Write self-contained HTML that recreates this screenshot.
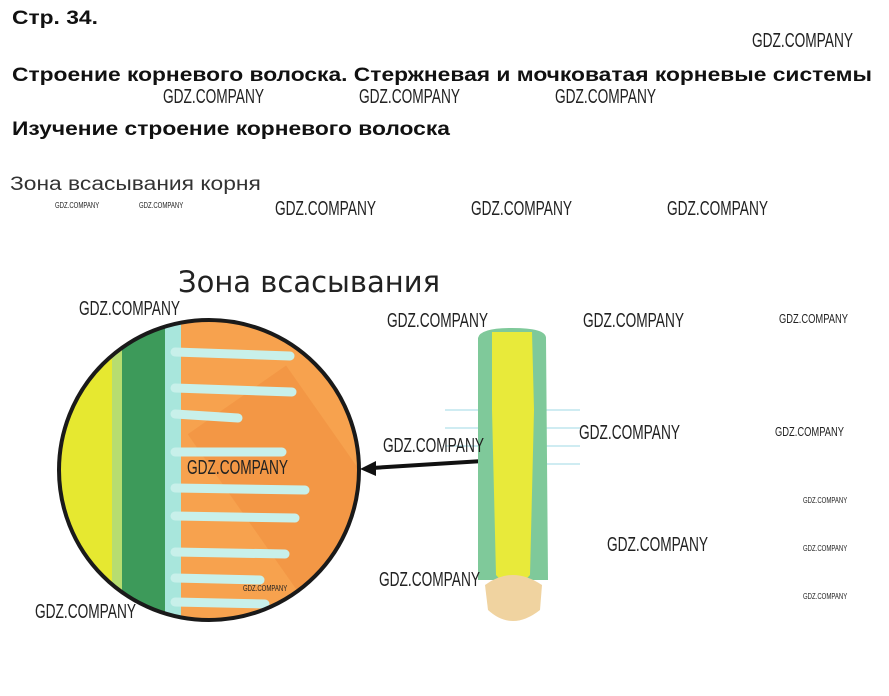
<!DOCTYPE html>
<html><head><meta charset="utf-8"><style>
body{margin:0;background:#fff;width:889px;height:696px;overflow:hidden;position:relative;font-family:"Liberation Sans",sans-serif}
.t{position:absolute;white-space:nowrap;color:#111;transform-origin:left top}
.b{font-weight:bold;font-size:19px;transform:scaleX(1.2)}
.w{position:absolute;white-space:nowrap;font-family:"Liberation Sans Narrow","Liberation Sans",sans-serif;font-size:20px;color:#222;transform:scaleX(.685);transform-origin:left top;font-weight:300}
.s{font-size:8px;transform:scaleX(.75)}
.m{font-size:13px;transform:scaleX(.72)}
</style></head><body>
<div class="t b" style="left:12px;top:8px">Стр. 34.</div>
<div class="t b" style="left:12px;top:65px">Строение корневого волоска. Стержневая и мочковатая корневые системы</div>
<div class="t b" style="left:12px;top:119px">Изучение строение корневого волоска</div>
<div class="t" style="left:10px;top:174px;font-size:19px;color:#333;transform:scaleX(1.2)">Зона всасывания корня</div>
<div class="t" style="left:178px;top:265px;font-size:29px;color:#222;font-family:'DejaVu Sans',sans-serif">Зона всасывания</div>

<svg style="position:absolute;left:0;top:0" width="889" height="696">
<defs><clipPath id="c"><circle cx="209" cy="470" r="150"/></clipPath></defs>
<g clip-path="url(#c)">
<rect x="50" y="310" width="330" height="330" fill="#f7a24e"/>
<rect x="240" y="380" width="120" height="220" fill="#f09040" opacity=".6" transform="rotate(-35 300 490)"/>
<rect x="50" y="310" width="70" height="330" fill="#e6e830"/>
<rect x="112" y="310" width="12" height="330" fill="#b7dd70"/>
<rect x="122" y="310" width="50" height="330" fill="#3d9a5a"/>
<rect x="165" y="310" width="16" height="330" fill="#a8e6dc"/>
<g stroke="#c8f0ea" stroke-width="9" stroke-linecap="round">
<line x1="175" y1="352" x2="290" y2="356"/>
<line x1="175" y1="388" x2="292" y2="392"/>
<line x1="175" y1="414" x2="238" y2="418"/>
<line x1="175" y1="452" x2="282" y2="452"/>
<line x1="175" y1="488" x2="305" y2="490"/>
<line x1="175" y1="516" x2="295" y2="518"/>
<line x1="175" y1="552" x2="285" y2="554"/>
<line x1="175" y1="578" x2="260" y2="580"/>
<line x1="175" y1="602" x2="265" y2="604"/>
</g>
</g>
<circle cx="209" cy="470" r="150" fill="none" stroke="#1a1a1a" stroke-width="4"/>
<line x1="483" y1="461" x2="372" y2="468" stroke="#111" stroke-width="4"/>
<polygon points="360,469 376,461 376,476" fill="#111"/>
<g stroke="#bfe6ee" stroke-width="1.5"><line x1="445" y1="410" x2="480" y2="410"/><line x1="445" y1="428" x2="480" y2="428"/><line x1="445" y1="446" x2="480" y2="446"/><line x1="545" y1="410" x2="580" y2="410"/><line x1="545" y1="428" x2="580" y2="428"/><line x1="545" y1="446" x2="580" y2="446"/><line x1="545" y1="464" x2="580" y2="464"/></g>
<path d="M478,338 Q480,328 512,328 Q546,328 546,338 L548,580 L478,580 Z" fill="#7fc99a"/>
<path d="M492,332 L532,332 L534,410 L530,575 Q512,595 496,575 L492,410 Z" fill="#e8ea3a"/>
<path d="M485,585 Q512,565 542,585 L540,610 Q512,632 488,610 Z" fill="#f0d3a0"/>
</svg>

<div class="w" style="left:752px;top:30px">GDZ.COMPANY</div>
<div class="w" style="left:163px;top:86px">GDZ.COMPANY</div>
<div class="w" style="left:359px;top:86px">GDZ.COMPANY</div>
<div class="w" style="left:555px;top:86px">GDZ.COMPANY</div>
<div class="w s" style="left:55px;top:201px">GDZ.COMPANY</div>
<div class="w s" style="left:139px;top:201px">GDZ.COMPANY</div>
<div class="w" style="left:275px;top:198px">GDZ.COMPANY</div>
<div class="w" style="left:471px;top:198px">GDZ.COMPANY</div>
<div class="w" style="left:667px;top:198px">GDZ.COMPANY</div>
<div class="w" style="left:79px;top:298px">GDZ.COMPANY</div>
<div class="w" style="left:387px;top:310px">GDZ.COMPANY</div>
<div class="w" style="left:583px;top:310px">GDZ.COMPANY</div>
<div class="w m" style="left:779px;top:311px">GDZ.COMPANY</div>
<div class="w" style="left:383px;top:435px">GDZ.COMPANY</div>
<div class="w" style="left:579px;top:422px">GDZ.COMPANY</div>
<div class="w m" style="left:775px;top:424px">GDZ.COMPANY</div>
<div class="w" style="left:187px;top:457px">GDZ.COMPANY</div>
<div class="w s" style="left:803px;top:496px">GDZ.COMPANY</div>
<div class="w" style="left:607px;top:534px">GDZ.COMPANY</div>
<div class="w s" style="left:803px;top:544px">GDZ.COMPANY</div>
<div class="w" style="left:379px;top:569px">GDZ.COMPANY</div>
<div class="w s" style="left:243px;top:584px">GDZ.COMPANY</div>
<div class="w s" style="left:803px;top:592px">GDZ.COMPANY</div>
<div class="w" style="left:35px;top:601px">GDZ.COMPANY</div>
</body></html>
